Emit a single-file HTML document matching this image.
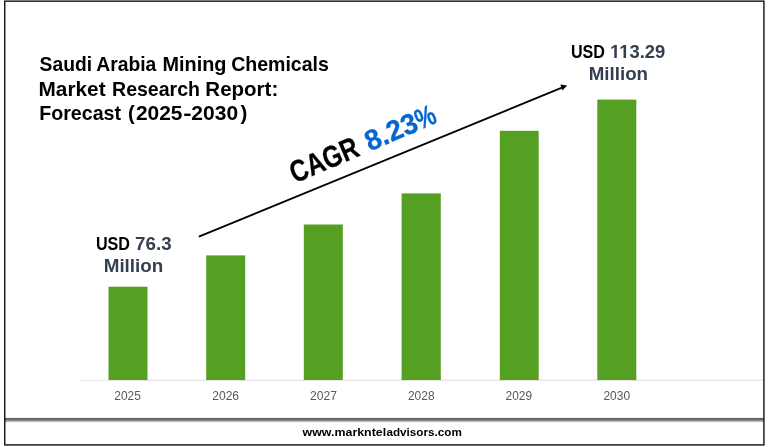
<!DOCTYPE html>
<html lang="en">
<head>
<meta charset="utf-8">
<title>Saudi Arabia Mining Chemicals Market Research Report: Forecast (2025-2030)</title>
<style>
html,body{margin:0;padding:0;background:#fff;}
body{width:768px;height:447px;overflow:hidden;}
svg{display:block;}
text{font-family:"Liberation Sans","DejaVu Sans",sans-serif;}
.title text{font-size:19.8px;font-weight:bold;fill:#000;}
.label{font-size:18.6px;font-weight:bold;fill:#333f50;}
.label .usd{fill:#000;}
.years text{font-size:12.4px;fill:#595959;}
.footer{font-size:11.5px;font-weight:bold;fill:#000;}
.cagr{font-weight:bold;fill:#000;stroke:#000;stroke-width:0.25px;}
.cagr .pct{font-size:28.7px;fill:#0566d0;stroke:#0566d0;stroke-width:0.3px;}
</style>
</head>
<body>
<svg width="768" height="447" viewBox="0 0 768 447" role="img" aria-label="Saudi Arabia Mining Chemicals Market forecast bar chart">
  <rect x="0" y="0" width="768" height="447" fill="#fff"/>

  <!-- x axis -->
  <rect x="79" y="379.7" width="30" height="1" fill="#e6e6e6"/>
  <rect x="108" y="379.7" width="655" height="1" fill="#d9d9d9"/>

  <!-- bars -->
  <g fill="#55a022">
    <rect x="108.5" y="286.7" width="39" height="93.3"/>
    <rect x="206.2" y="255.4" width="39" height="124.6"/>
    <rect x="303.8" y="224.5" width="39" height="155.5"/>
    <rect x="401.6" y="193.4" width="39.2" height="186.6"/>
    <rect x="499.8" y="130.8" width="38.9" height="249.2"/>
    <rect x="597.3" y="99.6" width="39" height="280.4"/>
  </g>

  <!-- year labels -->
  <g class="years">
    <text x="114.3" y="399.5" textLength="26.66" lengthAdjust="spacingAndGlyphs">2025</text>
    <text x="212.29" y="399.5" textLength="26.77" lengthAdjust="spacingAndGlyphs">2026</text>
    <text x="309.99" y="399.5" textLength="26.87" lengthAdjust="spacingAndGlyphs">2027</text>
    <text x="407.9" y="399.5" textLength="26.66" lengthAdjust="spacingAndGlyphs">2028</text>
    <text x="505.6" y="399.5" textLength="26.56" lengthAdjust="spacingAndGlyphs">2029</text>
    <text x="603.39" y="399.5" textLength="26.75" lengthAdjust="spacingAndGlyphs">2030</text>
  </g>

  <!-- title -->
  <g class="title">
    <text y="71.3"><tspan x="39.59" textLength="52.43" lengthAdjust="spacingAndGlyphs">Saudi</tspan> <tspan x="96.31" textLength="60.02" lengthAdjust="spacingAndGlyphs">Arabia</tspan> <tspan x="162.52" textLength="63.94" lengthAdjust="spacingAndGlyphs">Mining</tspan> <tspan x="231.14" textLength="97.8" lengthAdjust="spacingAndGlyphs">Chemicals</tspan></text>
    <text y="95.8"><tspan x="38.55" textLength="67.04" lengthAdjust="spacingAndGlyphs">Market</tspan> <tspan x="112.04" textLength="87.95" lengthAdjust="spacingAndGlyphs">Research</tspan> <tspan x="205.38" textLength="72.85" lengthAdjust="spacingAndGlyphs">Report:</tspan></text>
    <text y="120.3"><tspan x="39.13" textLength="81.98" lengthAdjust="spacingAndGlyphs">Forecast</tspan> <tspan x="127.98" textLength="6.71" lengthAdjust="spacingAndGlyphs">(</tspan><tspan x="135.94" textLength="46.51" lengthAdjust="spacingAndGlyphs">2025</tspan><tspan x="183.25" textLength="8.31" lengthAdjust="spacingAndGlyphs">-</tspan><tspan x="191.34" textLength="46.78" lengthAdjust="spacingAndGlyphs">2030</tspan><tspan x="240.47" textLength="6.83" lengthAdjust="spacingAndGlyphs">)</tspan></text>
  </g>

  <!-- value labels -->
  <g>
    <text class="label" y="249.9"><tspan x="95.92" textLength="34.04" lengthAdjust="spacingAndGlyphs" class="usd">USD</tspan> <tspan x="135.14" textLength="36.46" lengthAdjust="spacingAndGlyphs">76.3</tspan> <tspan x="103.74" y="272.2" textLength="59.5" lengthAdjust="spacingAndGlyphs">Million</tspan></text>
    <text class="label" y="57.7"><tspan x="571.03" textLength="33.93" lengthAdjust="spacingAndGlyphs" class="usd">USD</tspan> <tspan x="609.99" textLength="55.24" lengthAdjust="spacingAndGlyphs">113.29</tspan> <tspan x="588.74" y="80.2" textLength="59.29" lengthAdjust="spacingAndGlyphs">Million</tspan></text>
  </g>

  <!-- trim the feet of the "1" digits so they read as plain strokes -->
  <g fill="#fff">
    <rect x="610.4" y="55.75" width="3.85" height="2.6"/>
    <rect x="616.75" y="55.75" width="6.75" height="2.6"/>
    <rect x="626" y="55.75" width="3.5" height="2.6"/>
  </g>

  <!-- trend arrow -->
  <line x1="199.5" y1="236.4" x2="562" y2="87.6" stroke="#000" stroke-width="1.75" stroke-linecap="round"/>
  <polygon points="567.2,85.4 560.4,84.6 562.3,90.6" fill="#000"/>

  <!-- CAGR -->
  <g transform="translate(311.8,176.4) rotate(-23.2)">
    <text class="cagr" y="0"><tspan x="-18.16" font-size="30.5" textLength="71.92" lengthAdjust="spacingAndGlyphs">CAGR</tspan> <tspan class="pct" x="63.01" textLength="54.76" lengthAdjust="spacingAndGlyphs">8.23</tspan><tspan class="pct" x="117.71" textLength="19.93" lengthAdjust="spacingAndGlyphs">%</tspan></text>
  </g>

  <!-- divider above footer -->
  <g>
    <rect x="5" y="417" width="759" height="1" fill="#f0f0f0"/>
    <rect x="5" y="418" width="759" height="1" fill="#646464"/>
    <rect x="5" y="419" width="759" height="1" fill="#6c6c6c"/>
    <rect x="5" y="420" width="759" height="1" fill="#8a8a8a"/>
    <rect x="5" y="421" width="759" height="1" fill="#c0c0c0"/>
    <rect x="5" y="422" width="759" height="1" fill="#f2f2f2"/>
    <rect x="5" y="423" width="759" height="1" fill="#fcfcfc"/>
  </g>

  <!-- footer -->
  <text class="footer" y="436"><tspan x="302.6" textLength="83.56" lengthAdjust="spacingAndGlyphs">www.markntel</tspan><tspan x="386.42" textLength="75.48" lengthAdjust="spacingAndGlyphs">advisors.com</tspan></text>

  <!-- frame -->
  <rect x="4.75" y="1.15" width="759.17" height="443.75" fill="none" stroke="#111" stroke-width="1.4"/>
</svg>
</body>
</html>
